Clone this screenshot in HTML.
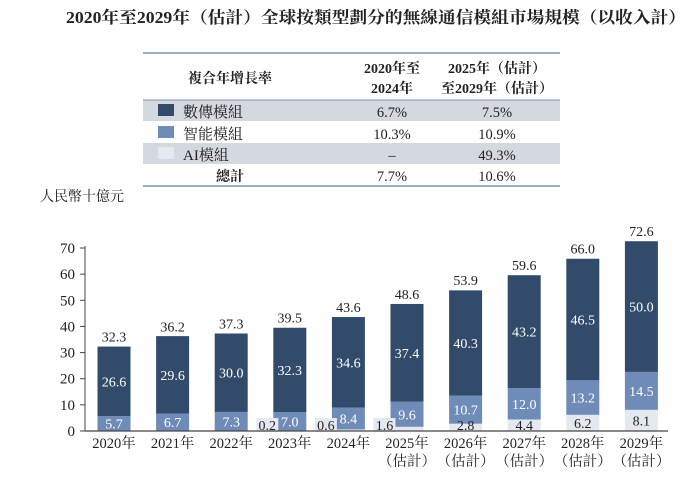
<!DOCTYPE html>
<html><head><meta charset="utf-8"><style>
body{margin:0;background:#fff;width:700px;height:483px;overflow:hidden}
svg text{font-family:"Liberation Serif","Noto Serif CJK SC","Noto Sans CJK TC",serif}
</style></head><body>
<svg id="c" width="700" height="483" viewBox="0 0 700 483">
<text x="376" y="23" text-anchor="middle" font-size="16.5" font-weight="bold" fill="#222" textLength="620" lengthAdjust="spacingAndGlyphs">2020年至2029年（估計）全球按類型劃分的無線通信模組市場規模（以收入計）</text>
<g>
<line x1="143" y1="53" x2="560" y2="53" stroke="#7f93a8" stroke-width="1.5"/>
<rect x="143" y="100" width="417" height="21" fill="#d4d8df"/>
<rect x="143" y="143" width="417" height="21" fill="#d4d8df"/>
<line x1="143" y1="100" x2="560" y2="100" stroke="#7f93a8" stroke-width="1"/>
<line x1="143" y1="186" x2="560" y2="186" stroke="#7f93a8" stroke-width="1.5"/>
<text x="230" y="83" text-anchor="middle" font-size="14" font-weight="bold" fill="#222">複合年增長率</text>
<text x="392" y="73" text-anchor="middle" font-size="14" font-weight="bold" fill="#222">2020年至</text>
<text x="392" y="93" text-anchor="middle" font-size="14" font-weight="bold" fill="#222">2024年</text>
<text x="497" y="73" text-anchor="middle" font-size="14" font-weight="bold" fill="#222">2025年（估計）</text>
<text x="497" y="93" text-anchor="middle" font-size="14" font-weight="bold" fill="#222">至2029年（估計）</text>
<rect x="158" y="104" width="16" height="12" fill="#324b6b"/>
<rect x="158" y="126" width="16" height="12" fill="#6f8cb8"/>
<rect x="158" y="147" width="16" height="12" fill="#e4e9f1"/>
<text x="183" y="117" font-size="15" fill="#222">數傳模組</text>
<text x="183" y="139" font-size="15" fill="#222">智能模組</text>
<text x="183" y="160" font-size="15" fill="#222">AI模組</text>
<text x="230" y="181" text-anchor="middle" font-size="14" font-weight="bold" fill="#222">總計</text>
<text x="392" y="117" text-anchor="middle" font-size="14.5" fill="#222">6.7%</text>
<text x="497" y="117" text-anchor="middle" font-size="14.5" fill="#222">7.5%</text>
<text x="392" y="139" text-anchor="middle" font-size="14.5" fill="#222">10.3%</text>
<text x="497" y="139" text-anchor="middle" font-size="14.5" fill="#222">10.9%</text>
<text x="392" y="160" text-anchor="middle" font-size="14.5" fill="#222">–</text>
<text x="497" y="160" text-anchor="middle" font-size="14.5" fill="#222">49.3%</text>
<text x="392" y="181" text-anchor="middle" font-size="14.5" fill="#222">7.7%</text>
<text x="497" y="181" text-anchor="middle" font-size="14.5" fill="#222">10.6%</text>
</g>
<text x="40" y="201" font-size="14" fill="#222">人民幣十億元</text>
<g id="plot"></g>
</svg>
<script>
const years=["2020年","2021年","2022年","2023年","2024年","2025年","2026年","2027年","2028年","2029年"];
const estimated=[false,false,false,false,false,true,true,true,true,true];
const aiVals=[0,0,0,0.2,0.6,1.6,2.8,4.4,6.2,8.1];
const smartVals=[5.7,6.7,7.3,7.0,8.4,9.6,10.7,12.0,13.2,14.5];
const dataVals=[26.6,29.6,30.0,32.3,34.6,37.4,40.3,43.2,46.5,50.0];
const totals=[32.3,36.2,37.3,39.5,43.6,48.6,53.9,59.6,66.0,72.6];
const yTicks=[0,10,20,30,40,50,60,70];
const NS="http://www.w3.org/2000/svg";
const g=document.getElementById('plot');
const y0=431,k=2.614;
const Y=v=>y0-v*k;
const X=i=>114+i*58.6;
const bw=33;
function el(t,a,txt){const e=document.createElementNS(NS,t);for(const n in a)e.setAttribute(n,a[n]);if(txt!==undefined)e.textContent=txt;g.appendChild(e);return e;}
const ax=el('line',{x1:85,y1:y0,x2:85,y2:Y(70)-2,stroke:'#444','stroke-width':1});


yTicks.forEach(t=>{
 el('line',{x1:80,y1:Y(t),x2:85,y2:Y(t),stroke:'#444'});
 const l=el('text',{x:75,y:Y(t)+5,'text-anchor':'end','font-size':15,fill:'#222'},t);
 
 
});
years.forEach((yr,i)=>{
 const cx=X(i),x=cx-bw/2;
 const a=aiVals[i],s=smartVals[i],d=dataVals[i];
 if(a>0){const r=el('rect',{x:x,y:Y(a),width:bw,height:a*k,fill:'#e4e9f1'});
  
  }
 const rs=el('rect',{x:x,y:Y(a+s),width:bw,height:s*k,fill:'#6f8cb8'});
 
 
 const rd=el('rect',{x:x,y:Y(a+s+d),width:bw,height:d*k,fill:'#324b6b'});
 
 
 el('text',{x:cx,y:Y(a+s+d/2)+5,'text-anchor':'middle','font-size':14,fill:'#fff'},d.toFixed(1));
 el('text',{x:cx,y:Y(a+s/2)+5,'text-anchor':'middle','font-size':14,fill:'#fff'},s.toFixed(1));
 const tl=el('text',{x:cx,y:Y(totals[i])-5,'text-anchor':'middle','font-size':14,fill:'#222'},totals[i].toFixed(1));
 
 
 if(a>0){
  if(a<2){el('rect',{x:x-17,y:y0-13,width:22,height:14,fill:'#e4e9f1'});
   el('text',{x:x-6,y:y0-1,'text-anchor':'middle','font-size':14,fill:'#222'},a.toFixed(1));}
  else if(a<4){el('text',{x:cx,y:y0-1,'text-anchor':'middle','font-size':14,fill:'#222'},a.toFixed(1));}
  else el('text',{x:cx,y:Y(a/2)+5,'text-anchor':'middle','font-size':14,fill:'#222'},a.toFixed(1));
 }
 const xl=el('text',{x:cx,y:448,'text-anchor':'middle','font-size':14.5,fill:'#222'},yr);
 
 
 if(estimated[i])el('text',{x:cx,y:466,'text-anchor':'middle','font-size':14.5,fill:'#222'},'（估計）');
});
const xa=el('line',{x1:85,y1:y0,x2:668,y2:y0,stroke:'#444','stroke-width':1.2});


</script>
</body></html>
